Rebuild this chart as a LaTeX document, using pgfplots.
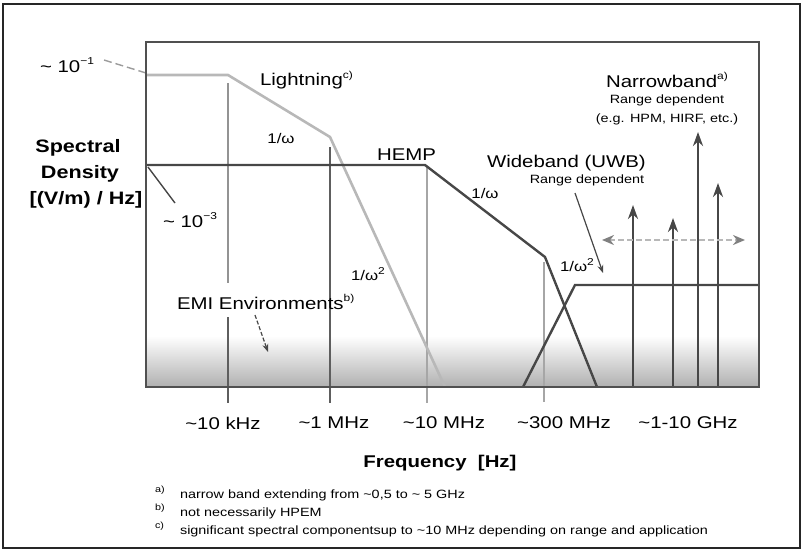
\documentclass[border=0pt]{standalone}
\usepackage{pgfplots}
\pgfplotsset{compat=1.18}
\usepackage{fontspec}
\setmainfont{Liberation Sans}
\usepackage{graphicx}
\usetikzlibrary{arrows.meta}
\definecolor{txt}{HTML}{333333}
\definecolor{lightc}{HTML}{B8B8B8}
\definecolor{hempc}{HTML}{474747}
\definecolor{boxc}{HTML}{505050}
\definecolor{vdark}{HTML}{5E5E5E}
\definecolor{vlight}{HTML}{A6A6A6}
\definecolor{shadec}{HTML}{B0B0B0}
\definecolor{shadem}{HTML}{D4D4D4}
\newcommand{\sx}[1]{\scalebox{1.2}[1]{#1}}
\newcommand{\fs}[1]{\fontsize{#1}{#1}\selectfont}
\newcommand{\sups}[1]{\raisebox{0.85ex}{\fs{5}#1}}
\begin{document}
\begin{tikzpicture}
\begin{axis}[
  scale only axis, width=306.5pt, height=172.5pt,
  xmin=146, xmax=759, ymin=42, ymax=387, y dir=reverse,
  xtick=\empty, ytick=\empty, clip=false, axis on top,
  axis line style={draw=boxc, line width=0.6pt},
  every node/.style={inner sep=0pt, text=txt},
]
% bottom shading
\shade[top color=white, middle color=shadem, bottom color=shadec] (axis cs:146,336) rectangle (axis cs:759,387);
% vertical frequency markers
\addplot[lightc!80!black, line width=0.9pt] coordinates {(228,83)(228,283)};
\addplot[vdark, line width=0.9pt] coordinates {(228,317)(228,403)};
\addplot[vdark, line width=0.9pt] coordinates {(330,147)(330,403)};
\addplot[vlight, line width=1.2pt] coordinates {(427,167)(427,403)};
\addplot[vlight, line width=1.2pt] coordinates {(544,262)(544,402)};
% lightning
\addplot[lightc, line width=1.3pt] coordinates {(146,75)(228,75)(330,137)(445,387)};
\addplot[lightc!85!black, line width=0.7pt, dash pattern=on 4pt off 2pt] coordinates {(104,60)(146,73)};
% HEMP
\addplot[hempc, line width=1.2pt] coordinates {(146,165)(425,165)(545,257)(597,387)};
\addplot[hempc, line width=0.7pt] coordinates {(148,167)(175,203)};
% UWB
\addplot[hempc, line width=1.2pt] coordinates {(523,387)(575,285)(759,285)};
% narrowband arrows
\addplot[hempc, line width=1.3pt, -{Stealth[length=7pt,width=5pt]}] coordinates {(633,387)(633,205)};
\addplot[hempc, line width=1.3pt, -{Stealth[length=7pt,width=5pt]}] coordinates {(673,387)(673,218)};
\addplot[hempc, line width=1.3pt, -{Stealth[length=7pt,width=5pt]}] coordinates {(698,387)(698,132)};
\addplot[hempc, line width=1.3pt, -{Stealth[length=7pt,width=5pt]}] coordinates {(718,387)(718,183)};
\addplot[lightc, line width=1pt, dash pattern=on 3pt off 1.5pt, {Stealth[length=6pt,width=5pt,color=gray]}-{Stealth[length=6pt,width=5pt,color=gray]}] coordinates {(602,240)(745,240)};
% pointer arrows
\addplot[hempc, line width=0.6pt, -{Stealth[length=4pt,width=3pt]}] coordinates {(575,193)(603,273)};
\addplot[hempc, line width=0.6pt, dash pattern=on 2pt off 1pt, -{Stealth[length=4pt,width=3pt]}] coordinates {(255,315)(268,352)};
% outer frame
\draw[black!85, line width=1.2pt] (axis cs:3,4) rectangle (axis cs:800,548);
\path (axis cs:0,0) rectangle (axis cs:802,552);
% texts
\node at (axis cs:67,65) {\sx{\fs{8.5}\textasciitilde{} 10\sups{−1}}};
\node at (axis cs:190,220) {\sx{\fs{8.5}\textasciitilde{} 10\sups{−3}}};
\node at (axis cs:78,148) {\sx{\fs{9}\bfseries Spectral}};
\node at (axis cs:80,174) {\sx{\fs{9}\bfseries Density}};
\node at (axis cs:86,200) {\sx{\fs{9}\bfseries [(V/m) / Hz]}};
\node[anchor=west] at (axis cs:253,80) {\sx{\fs{8.5}Lightning\sups{c)}}};
\node at (axis cs:281,138) {\sx{\fs{7}1/ω}};
\node[anchor=west] at (axis cs:370,155) {\sx{\fs{8.5}HEMP}};
\node at (axis cs:485,193) {\sx{\fs{7}1/ω}};
\node at (axis cs:368,274) {\sx{\fs{7}1/ω\sups{2}}};
\node at (axis cs:577,265) {\sx{\fs{7}1/ω\sups{2}}};
\node[anchor=west] at (axis cs:480,163) {\sx{\fs{8.5}Wideband (UWB)}};
\node at (axis cs:587,180) {\sx{\fs{6}Range dependent}};
\node at (axis cs:667,80) {\sx{\fs{8.5}Narrowband\sups{a)}}};
\node at (axis cs:667,100) {\sx{\fs{6}Range dependent}};
\node at (axis cs:667,119) {\sx{\fs{6}(e.g. HPM, HIRF, etc.)}};
\node[anchor=west] at (axis cs:170,302) {\sx{\fs{8.5}EMI Environments\sups{b)}}};
\node at (axis cs:223,423) {\sx{\fs{8.5}\textasciitilde10 kHz}};
\node at (axis cs:334,423) {\sx{\fs{8.5}\textasciitilde1 MHz}};
\node at (axis cs:444,423) {\sx{\fs{8.5}\textasciitilde10 MHz}};
\node at (axis cs:564,423) {\sx{\fs{8.5}\textasciitilde300 MHz}};
\node at (axis cs:688,423) {\sx{\fs{8.5}\textasciitilde1-10 GHz}};
\node at (axis cs:440,463) {\sx{\fs{8.5}\bfseries Frequency\ \ [Hz]}};
\node[anchor=west] at (axis cs:148,490) {\sx{\fs{4.5}a)}};
\node[anchor=west] at (axis cs:148,508) {\sx{\fs{4.5}b)}};
\node[anchor=west] at (axis cs:148,526) {\sx{\fs{4.5}c)}};
\node[anchor=west] at (axis cs:173,495) {\sx{\fs{6}narrow band extending from \textasciitilde0,5 to \textasciitilde{} 5 GHz}};
\node[anchor=west] at (axis cs:173,513) {\sx{\fs{6}not necessarily HPEM}};
\node[anchor=west] at (axis cs:173,531) {\sx{\fs{6}significant spectral componentsup to \textasciitilde10 MHz depending on range and application}};
\end{axis}
\end{tikzpicture}
\end{document}
